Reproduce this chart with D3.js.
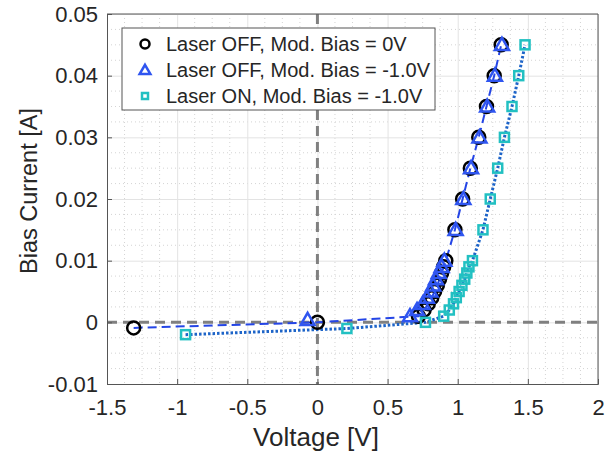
<!DOCTYPE html>
<html>
<head>
<meta charset="utf-8">
<script src="https://cdn.jsdelivr.net/npm/d3@7"></script>
<style>
  body { margin: 0; background: #fff; }
  text { font-family: "Liberation Sans", Arial, sans-serif; fill: #262626; }
</style>
</head>
<body>
<svg id="chart"></svg>
<script>
// Laser OFF, Mod. Bias = 0V
const offZeroV = [-1.31, 0, 0.72, 0.76, 0.79, 0.815, 0.835, 0.855, 0.87, 0.885, 0.9, 0.915, 0.98, 1.035, 1.09, 1.15, 1.205, 1.26, 1.31];
const offZeroI = [-0.0009, 0, 0.001, 0.002, 0.003, 0.004, 0.005, 0.006, 0.007, 0.008, 0.009, 0.01, 0.015, 0.02, 0.025, 0.03, 0.035, 0.04, 0.045];
// Laser OFF, Mod. Bias = -1.0V
const offNegV = [-0.07, 0.66, 0.71, 0.75, 0.78, 0.805, 0.825, 0.845, 0.865, 0.885, 0.905, 0.985, 1.04, 1.095, 1.155, 1.21, 1.265, 1.315];
const offNegI = [0.0004, 0.001, 0.002, 0.003, 0.004, 0.005, 0.006, 0.007, 0.008, 0.009, 0.01, 0.015, 0.02, 0.025, 0.03, 0.035, 0.04, 0.045];
// Laser ON, Mod. Bias = -1.0V
const onNegV = [-0.94, 0.21, 0.77, 0.9, 0.94, 0.97, 0.99, 1.01, 1.03, 1.05, 1.065, 1.08, 1.105, 1.18, 1.232, 1.285, 1.333, 1.387, 1.435, 1.48];
const onNegI = [-0.002, -0.001, 0, 0.001, 0.002, 0.003, 0.004, 0.005, 0.006, 0.007, 0.008, 0.009, 0.01, 0.015, 0.02, 0.025, 0.03, 0.035, 0.04, 0.045];

const xTicks = [-1.5, -1, -0.5, 0, 0.5, 1, 1.5, 2];
const yTicks = [-0.01, 0, 0.01, 0.02, 0.03, 0.04, 0.05];
const legendLabels = ["Laser OFF, Mod. Bias = 0V", "Laser OFF, Mod. Bias = -1.0V", "Laser ON, Mod. Bias = -1.0V"];

const W = 613, H = 456;
const m = {left: 107, right: 15, top: 14, bottom: 72};
const pw = W - m.left - m.right, ph = H - m.top - m.bottom;

let svg = d3.select("svg#chart").attr("width", W).attr("height", H);
let g = svg.append("g").attr("transform", `translate(${m.left},${m.top})`);

const x = d3.scaleLinear().domain([-1.5, 2]).range([0, pw]);
const y = d3.scaleLinear().domain([-0.01, 0.05]).range([ph, 0]);

// minor grid
const xMinor = d3.range(-1.5, 2.0001, 0.125).filter(v => Math.abs(v * 2 - Math.round(v * 2)) > 1e-6);
const yMinor = d3.range(-0.01, 0.05001, 0.0025).filter(v => Math.abs(v * 100 - Math.round(v * 100)) > 1e-6);
g.selectAll(".xminor").data(xMinor).join("line")
  .attr("x1", d => x(d)).attr("x2", d => x(d)).attr("y1", 0).attr("y2", ph)
  .attr("stroke", "#d4d4d4").attr("stroke-dasharray", "1,3");
g.selectAll(".yminor").data(yMinor).join("line")
  .attr("y1", d => y(d)).attr("y2", d => y(d)).attr("x1", 0).attr("x2", pw)
  .attr("stroke", "#d4d4d4").attr("stroke-dasharray", "1,3");

// major grid
g.append("g").call(d3.axisBottom(x).tickValues(xTicks).tickSize(ph).tickFormat(""))
  .call(a => a.select(".domain").remove())
  .selectAll("line").attr("stroke", "#e3e3e3");
g.append("g").call(d3.axisLeft(y).tickValues(yTicks).tickSize(-pw).tickFormat(""))
  .call(a => a.select(".domain").remove())
  .selectAll("line").attr("stroke", "#e3e3e3");

// zero lines
g.append("line").attr("x1", 0).attr("x2", pw).attr("y1", y(0)).attr("y2", y(0))
  .attr("stroke", "#808080").attr("stroke-width", 3).attr("stroke-dasharray", "10,6");
g.append("line").attr("x1", x(0)).attr("x2", x(0)).attr("y1", 0).attr("y2", ph)
  .attr("stroke", "#808080").attr("stroke-width", 3).attr("stroke-dasharray", "10,6");

// axes
const xAxis = g.append("g").attr("transform", `translate(0,${ph})`)
  .call(d3.axisBottom(x).tickValues(xTicks).tickSize(-5).tickPadding(15).tickFormat(d => String(d)));
const yAxis = g.append("g")
  .call(d3.axisLeft(y).tickValues(yTicks).tickSize(-5).tickPadding(9).tickFormat(d => String(d)));
[xAxis, yAxis].forEach(a => {
  a.attr("font-size", null);
  a.select(".domain").attr("stroke", "#555");
  a.selectAll("line").attr("stroke", "#555");
  a.selectAll("text").style("font-size", "22px").attr("fill", "#262626").style("font-family", "Liberation Sans, Arial, sans-serif");
});
g.append("line").attr("x1", pw).attr("x2", pw).attr("y1", 0).attr("y2", ph).attr("stroke", "#555");
g.append("line").attr("x1", 0).attr("x2", pw).attr("y1", 0).attr("y2", 0).attr("stroke", "#555");

// fit lines
const lineFn = d3.line().x(d => x(d[0])).y(d => y(d[1]));
g.append("path").datum(d3.zip(offZeroV, offZeroI)).attr("d", lineFn)
  .attr("fill", "none").attr("stroke", "#2445e6").attr("stroke-width", 2).attr("stroke-dasharray", "9,5");
g.append("path").datum(d3.zip(onNegV, onNegI)).attr("d", lineFn)
  .attr("fill", "none").attr("stroke", "#1d64c8").attr("stroke-width", 3).attr("stroke-dasharray", "2.5,2");

// markers
g.selectAll(".circ").data(d3.zip(offZeroV, offZeroI)).join("circle")
  .attr("cx", d => x(d[0])).attr("cy", d => y(d[1])).attr("r", 6.5)
  .attr("fill", "none").attr("stroke", "#000").attr("stroke-width", 2.5);
const tri = d3.symbol().type(d3.symbolTriangle).size(85);
g.selectAll(".tri").data(d3.zip(offNegV, offNegI)).join("path")
  .attr("d", tri).attr("transform", d => `translate(${x(d[0])},${y(d[1]) + 1})`)
  .attr("fill", "none").attr("stroke", "#2f55f0").attr("stroke-width", 2.5);
g.selectAll(".sq").data(d3.zip(onNegV, onNegI)).join("rect")
  .attr("x", d => x(d[0]) - 4.5).attr("y", d => y(d[1]) - 4.5).attr("width", 9).attr("height", 9)
  .attr("fill", "none").attr("stroke", "#22c0c2").attr("stroke-width", 2.5);

// legend
const lg = svg.append("g").attr("transform", "translate(122,28)");
lg.append("rect").attr("width", 313).attr("height", 82).attr("fill", "#fff").attr("stroke", "#555");
const rows = [16, 42, 68];
lg.append("circle").attr("cx", 23).attr("cy", rows[0]).attr("r", 4.5)
  .attr("fill", "none").attr("stroke", "#000").attr("stroke-width", 2.5);
lg.append("path").attr("d", d3.symbol().type(d3.symbolTriangle).size(50))
  .attr("transform", `translate(23,${rows[1] + 1})`)
  .attr("fill", "none").attr("stroke", "#2f55f0").attr("stroke-width", 2.5);
lg.append("rect").attr("x", 20).attr("y", rows[2] - 3).attr("width", 6).attr("height", 6)
  .attr("fill", "none").attr("stroke", "#22c0c2").attr("stroke-width", 2.5);
lg.selectAll(".lt").data(legendLabels).join("text")
  .attr("x", 44).attr("y", (d, i) => rows[i]).attr("dy", "0.36em")
  .style("font-size", "20px").text(d => d);

// axis labels
svg.append("text").attr("x", 316).attr("y", 446).attr("text-anchor", "middle")
  .style("font-size", "26px").text("Voltage [V]");
svg.append("text").attr("transform", "translate(37,191) rotate(-90)").attr("text-anchor", "middle")
  .style("font-size", "23.5px").text("Bias Current [A]");
</script>
</body>
</html>
